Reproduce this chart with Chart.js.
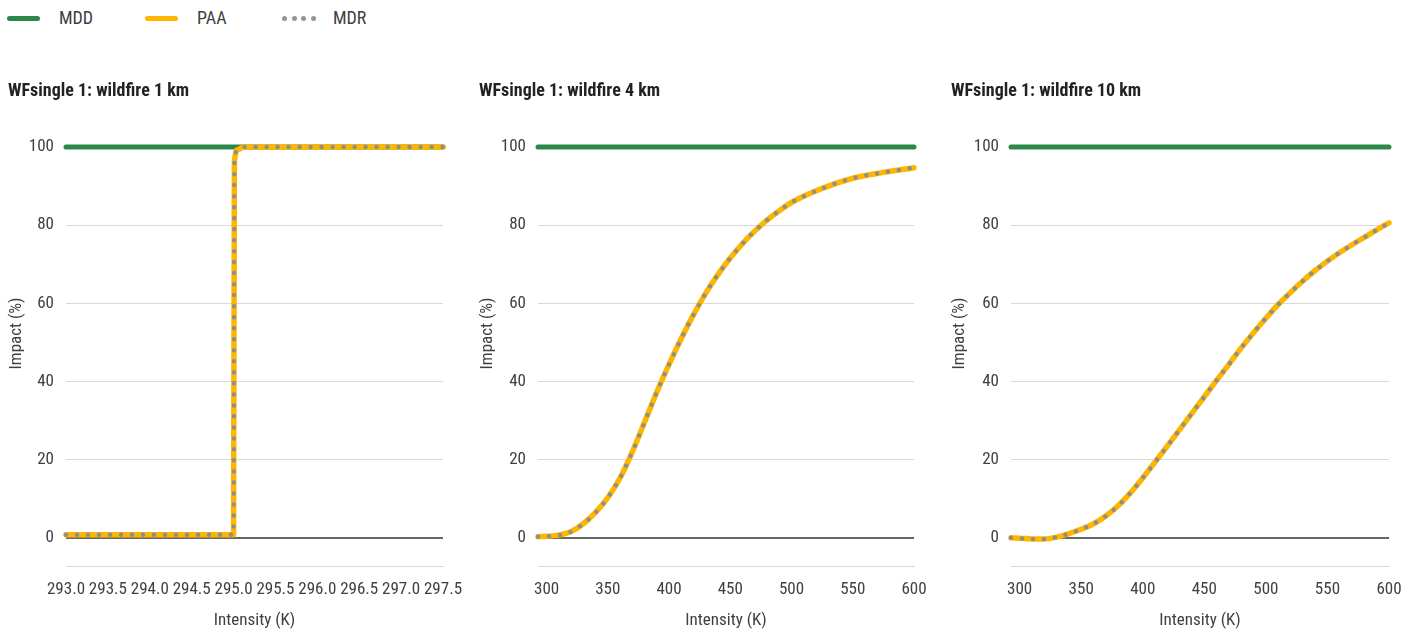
<!DOCTYPE html>
<html>
<head>
<meta charset="utf-8">
<script src="https://cdn.jsdelivr.net/npm/chart.js@4.4.1/dist/chart.umd.min.js"></script>
<style>
  html, body { margin: 0; padding: 0; background: #fff; }
  body {
    width: 1418px; height: 634px; position: relative; overflow: hidden;
    font-family: "Liberation Sans Narrow", "Roboto Condensed", "DejaVu Sans Condensed", sans-serif;
    color: #404040;
  }
  .lg { position: absolute; top: 8px; height: 20px; line-height: 20px; font-size: 18px; }
  .sw { position: absolute; top: 16px; width: 33px; height: 5px; border-radius: 3px; }
  .dots { position: absolute; top: 16px; width: 34px; height: 5px; display: flex; justify-content: space-between; }
  .dots span { width: 5px; height: 5px; border-radius: 50%; background: #95958c; }
  canvas { position: absolute; top: 60px; }
</style>
</head>
<body>
  <div class="sw" style="left:7px;background:#2e874a"></div>
  <div class="lg" style="left:59px">MDD</div>
  <div class="sw" style="left:145px;background:#ffb600"></div>
  <div class="lg" style="left:197px">PAA</div>
  <div class="dots" style="left:282px"><span></span><span></span><span></span><span></span></div>
  <div class="lg" style="left:333px">MDR</div>

  <canvas id="c1" width="470" height="574" style="left:0px"></canvas>
  <canvas id="c2" width="470" height="574" style="left:471px"></canvas>
  <canvas id="c3" width="471" height="574" style="left:943px"></canvas>

<script>
// ---- data ----
const seriesNames = ['MDD', 'PAA', 'MDR'];
const yTicks = [0, 20, 40, 60, 80, 100];
const titles = ['WFsingle 1: wildfire 1 km', 'WFsingle 1: wildfire 4 km', 'WFsingle 1: wildfire 10 km'];

// wildfire 1 km
const xTicks1 = [293.0, 293.5, 294.0, 294.5, 295.0, 295.5, 296.0, 296.5, 297.0, 297.5];
const mddX1 = [293.0, 297.5];
const mdd1 = [100, 100];
const intensity1 = [293.0, 293.5, 294.0, 294.5, 295.0, 295.01, 295.05, 295.12, 295.5, 296.0, 296.5, 297.0, 297.5];
const paa1 = [0.8, 0.8, 0.8, 0.8, 0.8, 96, 99.3, 100, 100, 100, 100, 100, 100];
const mdr1 = [0.8, 0.8, 0.8, 0.8, 0.8, 96, 99.3, 100, 100, 100, 100, 100, 100];

// wildfire 4 km
const xTicks2 = [300, 350, 400, 450, 500, 550, 600];
const mddX2 = [293, 600];
const mdd2 = [100, 100];
const intensity2 = [293, 300, 310, 320, 330, 340, 350, 360, 370, 380, 390, 400, 410, 420, 430, 440, 450, 460, 470, 480, 490, 500, 525, 550, 575, 600];
const paa2 = [0.3, 0.4, 0.7, 1.6, 3.6, 6.5, 10.3, 15.3, 22.0, 29.6, 37.3, 44.4, 51.0, 57.1, 62.6, 67.4, 71.6, 75.3, 78.5, 81.3, 83.7, 85.8, 89.4, 92.0, 93.5, 94.7];
const mdr2 = [0.3, 0.4, 0.7, 1.6, 3.6, 6.5, 10.3, 15.3, 22.0, 29.6, 37.3, 44.4, 51.0, 57.1, 62.6, 67.4, 71.6, 75.3, 78.5, 81.3, 83.7, 85.8, 89.4, 92.0, 93.5, 94.7];

// wildfire 10 km
const xTicks3 = [300, 350, 400, 450, 500, 550, 600];
const mddX3 = [293, 600];
const mdd3 = [100, 100];
const intensity3 = [293, 300, 310, 320, 330, 340, 350, 360, 370, 380, 390, 400, 410, 420, 430, 440, 450, 460, 470, 480, 490, 500, 510, 520, 530, 540, 550, 560, 570, 580, 590, 600];
const paa3 = [0, -0.1, -0.3, -0.3, 0.2, 1.1, 2.2, 3.6, 5.6, 8.2, 11.5, 15.3, 19.4, 23.5, 27.7, 31.9, 36.1, 40.3, 44.4, 48.6, 52.5, 56.2, 59.7, 62.8, 65.7, 68.4, 70.8, 73.0, 75.0, 76.9, 78.8, 80.6];
const mdr3 = [0, -0.1, -0.3, -0.3, 0.2, 1.1, 2.2, 3.6, 5.6, 8.2, 11.5, 15.3, 19.4, 23.5, 27.7, 31.9, 36.1, 40.3, 44.4, 48.6, 52.5, 56.2, 59.7, 62.8, 65.7, 68.4, 70.8, 73.0, 75.0, 76.9, 78.8, 80.6];

// ---- styling ----
const FONT = '"Liberation Sans Narrow", "Roboto Condensed", "DejaVu Sans Condensed", sans-serif';
const TEXT = '#404040';
const GREEN = '#2e874a', ORANGE = '#ffb600', GREY = '#8f8f8a';

const pts = (xs, ys) => xs.map((x, i) => ({ x, y: ys[i] }));

// rotated y-axis caption, placed a little above the plot's middle
const yCaption = {
  id: 'yCaption',
  afterDraw(chart) {
    const { ctx, chartArea } = chart;
    ctx.save();
    ctx.font = '17px ' + FONT;
    ctx.fillStyle = TEXT;
    ctx.textAlign = 'center';
    ctx.textBaseline = 'middle';
    ctx.translate(17, chartArea.top + (chartArea.bottom - chartArea.top) * 0.445);
    ctx.rotate(-Math.PI / 2);
    ctx.fillText('Impact (%)', 0, 0);
    ctx.restore();
  }
};

function build(id, cfg) {
  return new Chart(document.getElementById(id), {
    type: 'line',
    data: {
      datasets: [
        { label: seriesNames[0], data: pts(cfg.mddX, cfg.mdd), borderColor: GREEN, borderWidth: 5,
          borderCapStyle: 'round', pointRadius: 0, clip: false, order: 3 },
        { label: seriesNames[1], data: pts(cfg.x, cfg.paa), borderColor: ORANGE, borderWidth: 5.5,
          borderCapStyle: 'round', borderJoinStyle: 'round', pointRadius: 0, clip: false,
          cubicInterpolationMode: 'monotone', order: 2 },
        { label: seriesNames[2], data: pts(cfg.x, cfg.mdr), borderColor: GREY, borderWidth: 4.5,
          borderCapStyle: 'round', borderDash: [0, 11], pointRadius: 0, clip: false,
          cubicInterpolationMode: 'monotone', order: 1 }
      ]
    },
    options: {
      responsive: false,
      animation: false,
      devicePixelRatio: 1,
      layout: { padding: { left: 8, right: cfg.padRight, top: 10, bottom: 0 } },
      plugins: {
        legend: { display: false },
        tooltip: { enabled: false },
        title: {
          display: true, text: cfg.title, align: 'start', color: '#222',
          font: { family: FONT, size: 18, weight: 'bold', lineHeight: 1.2 },
          padding: { top: 11, bottom: 44.4 }
        }
      },
      scales: {
        x: {
          type: 'linear', min: cfg.xMin, max: cfg.xMax,
          afterBuildTicks: s => { s.ticks = cfg.xTicks.map(v => ({ value: v })); },
          afterFit: s => { s.height = 68; s.paddingLeft = 0; s.paddingRight = 0; },
          grid: { display: false, drawTicks: false },
          border: { display: true, color: '#d9d9d9', width: 1 },
          ticks: {
            autoSkip: false, maxRotation: 0, minRotation: 0, padding: 14, color: TEXT,
            font: { family: FONT, size: 17, lineHeight: 1.2 },
            callback: v => v.toFixed(cfg.dec)
          },
          title: {
            display: true, text: 'Intensity (K)', color: TEXT,
            font: { family: FONT, size: 17, lineHeight: 1.2 },
            padding: { top: 0, bottom: 3 }
          }
        },
        y: {
          min: -7.2, max: 100,
          afterBuildTicks: s => { s.ticks = yTicks.map(v => ({ value: v })); },
          afterFit: s => { s.width = cfg.yWidth; },
          grid: {
            drawTicks: false,
            color: c => (c.tick && c.tick.value === 0) ? '#666666' : '#d9d9d9',
            lineWidth: c => (c.tick && c.tick.value === 0) ? 2 : 1
          },
          border: { display: false },
          ticks: { padding: 12, color: TEXT, font: { family: FONT, size: 17, lineHeight: 1.2 } }
        }
      }
    },
    plugins: [yCaption]
  });
}

build('c1', { title: titles[0], x: intensity1, paa: paa1, mdr: mdr1, mddX: mddX1, mdd: mdd1,
  xMin: 293.0, xMax: 297.5, xTicks: xTicks1, dec: 1, yWidth: 58, padRight: 27 });
build('c2', { title: titles[1], x: intensity2, paa: paa2, mdr: mdr2, mddX: mddX2, mdd: mdd2,
  xMin: 293, xMax: 600, xTicks: xTicks2, dec: 0, yWidth: 59, padRight: 27 });
build('c3', { title: titles[2], x: intensity3, paa: paa3, mdr: mdr3, mddX: mddX3, mdd: mdd3,
  xMin: 293, xMax: 600, xTicks: xTicks3, dec: 0, yWidth: 60, padRight: 25 });
</script>
</body>
</html>
